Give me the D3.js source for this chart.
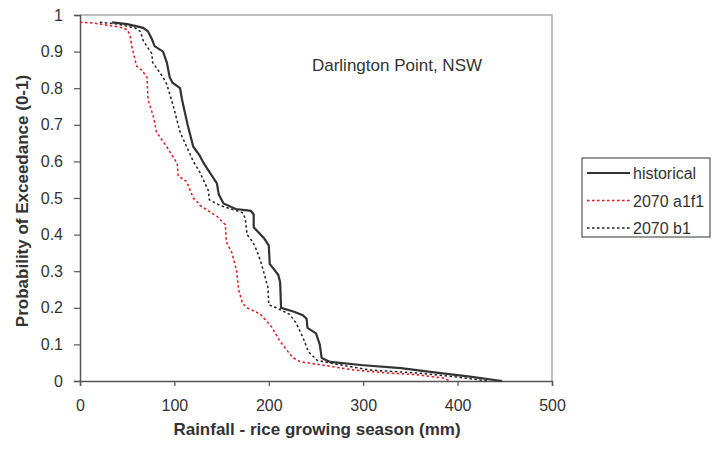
<!DOCTYPE html>
<html>
<head>
<meta charset="utf-8">
<script src="https://cdn.jsdelivr.net/npm/d3@7"></script>
<style>
  body { margin: 0; background: #fff; }
  text { font-family: "Liberation Sans", Arial, sans-serif; fill: #333; }
</style>
</head>
<body>
<svg id="chart" width="712" height="450"></svg>
<script>
// series: [rainfall mm, probability]
const historical = [[34,0.98],[50,0.975],[67,0.965],[72,0.955],[76,0.935],[79,0.915],[88,0.90],[92,0.87],[95,0.83],[98,0.815],[106,0.80],[108,0.77],[114,0.70],[120,0.64],[127,0.615],[131,0.595],[140,0.56],[145,0.54],[147,0.51],[152,0.485],[165,0.47],[181,0.465],[184,0.455],[184,0.42],[195,0.39],[200,0.37],[201,0.32],[210,0.29],[212,0.27],[213,0.20],[226,0.19],[236,0.18],[240,0.17],[241,0.145],[250,0.13],[254,0.10],[256,0.063],[265,0.052],[300,0.043],[340,0.035],[371,0.025],[413,0.012],[447,0]];
const a1f1 = [[0,0.98],[14,0.978],[42,0.967],[50,0.96],[53,0.945],[55,0.913],[60,0.86],[65,0.85],[71,0.83],[72,0.77],[78,0.72],[81,0.68],[92,0.64],[99,0.61],[103,0.595],[104,0.56],[113,0.545],[120,0.50],[124,0.49],[127,0.48],[145,0.45],[154,0.427],[155,0.38],[161,0.35],[166,0.30],[168,0.25],[172,0.213],[177,0.20],[191,0.183],[203,0.148],[212,0.108],[221,0.078],[226,0.063],[233,0.053],[258,0.043],[290,0.03],[325,0.022],[357,0.017],[385,0.008],[392,0]];
const b1 = [[21,0.98],[40,0.975],[58,0.965],[64,0.955],[67,0.93],[72,0.91],[76,0.895],[77,0.87],[88,0.83],[92,0.81],[99,0.75],[101,0.73],[106,0.68],[113,0.64],[120,0.60],[127,0.57],[136,0.52],[137,0.495],[148,0.48],[160,0.47],[172,0.46],[175,0.445],[177,0.40],[183,0.38],[187,0.358],[191,0.33],[194,0.303],[199,0.257],[200,0.208],[208,0.20],[222,0.182],[229,0.158],[236,0.12],[242,0.08],[251,0.057],[265,0.049],[307,0.03],[357,0.022],[399,0.011],[432,0]];

const seriesNames = ["historical", "2070 a1f1", "2070 b1"];
const xTicks = [0, 100, 200, 300, 400, 500];
const yTicks = [0, 0.1, 0.2, 0.3, 0.4, 0.5, 0.6, 0.7, 0.8, 0.9, 1];

const svg = d3.select("#chart");
const m = { left: 80, right: 552, top: 15, bottom: 381 };

const x = d3.scaleLinear().domain([0, 500]).range([m.left, m.right]);
const y = d3.scaleLinear().domain([0, 1]).range([m.bottom, m.top]);

// top + right frame
svg.append("path")
  .attr("d", `M${m.left},${m.top}H${m.right}V${m.bottom}`)
  .attr("fill", "none").attr("stroke", "#aaa").attr("stroke-width", 1.5);

const xAxis = svg.append("g")
  .attr("transform", `translate(0,${m.bottom})`)
  .call(d3.axisBottom(x).tickValues(xTicks).tickSize(5).tickPadding(9).tickFormat(d3.format("d")));
const yAxis = svg.append("g")
  .attr("transform", `translate(${m.left},0)`)
  .call(d3.axisLeft(y).tickValues(yTicks).tickSize(6).tickPadding(11).tickFormat(d => d === 0 || d === 1 ? d : d3.format(".1f")(d)));

[xAxis, yAxis].forEach(g => {
  g.select(".domain").attr("stroke", "#555").attr("stroke-width", 1.5);
  g.selectAll(".tick line").attr("stroke", "#555").attr("stroke-width", 1.2);
  g.selectAll("text").attr("font-size", 16).attr("fill", "#333")
    .attr("font-family", "'Liberation Sans', Arial, sans-serif");
});
xAxis.selectAll("text").attr("dy", "1em");

const line = d3.line().x(d => x(d[0])).y(d => y(d[1])).curve(d3.curveLinear);

const styles = [
  { color: "#333", width: 2.2, dash: null },
  { color: "#e8141c", width: 1.5, dash: "2.5,2.5" },
  { color: "#222", width: 1.5, dash: "2.5,2.5" }
];

[b1, a1f1, historical].forEach((s, i) => {
  const st = styles[2 - i];
  svg.append("path").datum(s)
    .attr("d", line)
    .attr("fill", "none")
    .attr("stroke", st.color)
    .attr("stroke-width", st.width)
    .attr("stroke-dasharray", st.dash);
});

svg.append("text").attr("x", 397).attr("y", 71)
  .attr("text-anchor", "middle").attr("font-size", 17)
  .text("Darlington Point, NSW");

svg.append("text")
  .attr("transform", `translate(28,${(m.top + m.bottom) / 2 + 3}) rotate(-90)`)
  .attr("text-anchor", "middle").attr("font-size", 17).attr("font-weight", "bold")
  .text("Probability of Exceedance (0-1)");

svg.append("text").attr("x", 317).attr("y", 435)
  .attr("text-anchor", "middle").attr("font-size", 17).attr("font-weight", "bold")
  .text("Rainfall - rice growing season (mm)");

// legend
const legend = svg.append("g");
legend.append("rect").attr("x", 582).attr("y", 158).attr("width", 128).attr("height", 79)
  .attr("fill", "#fff").attr("stroke", "#333").attr("stroke-width", 1);
seriesNames.forEach((name, i) => {
  const ly = 173 + i * 27.5;
  legend.append("line").attr("x1", 587).attr("x2", 630).attr("y1", ly).attr("y2", ly)
    .attr("stroke", styles[i].color).attr("stroke-width", styles[i].width)
    .attr("stroke-dasharray", styles[i].dash);
  legend.append("text").attr("x", 633).attr("y", ly + 6).attr("font-size", 16).text(name);
});
</script>
</body>
</html>
